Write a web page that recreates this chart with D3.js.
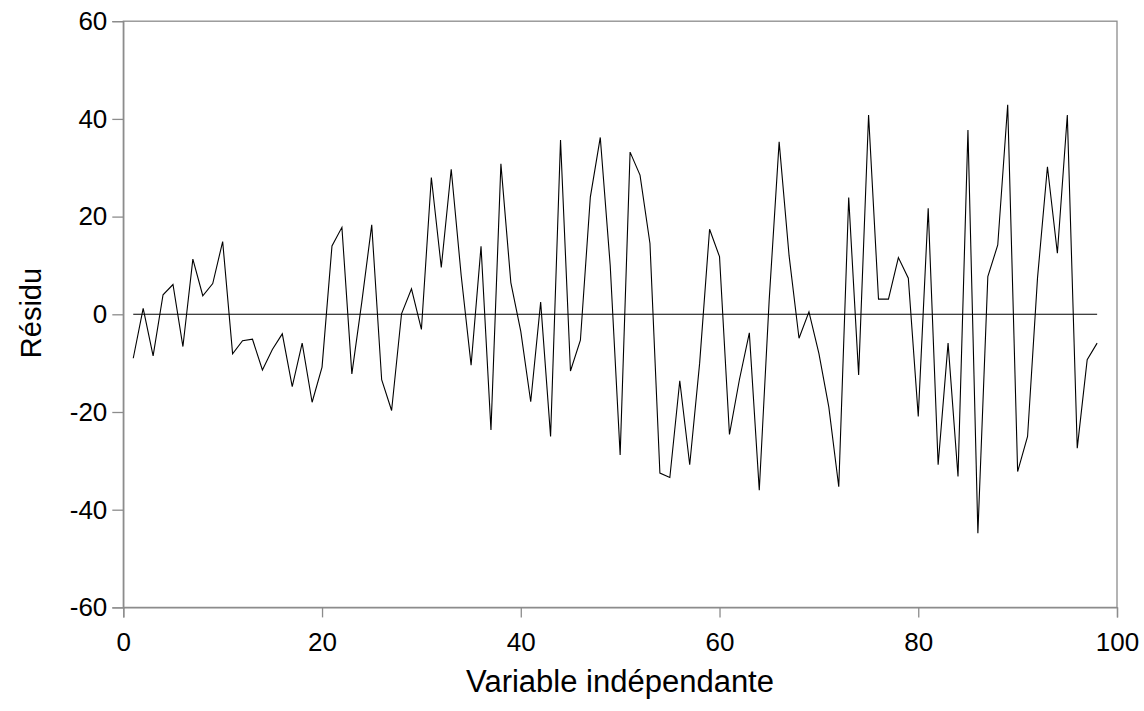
<!DOCTYPE html>
<html>
<head>
<meta charset="utf-8">
<script src="https://cdn.jsdelivr.net/npm/d3@7"></script>
<style>
  html, body { margin: 0; padding: 0; background: #ffffff; }
  svg { display: block; }
  text { font-family: "Liberation Sans", Arial, sans-serif; fill: #000; }
</style>
</head>
<body>
<svg id="chart" width="1144" height="711"></svg>
<script>
// ---- data ----
const xValues = [
  1,2,3,4,5,6,7,8,9,10,11,12,13,14,15,16,17,18,19,20,
  21,22,23,24,25,26,27,28,29,30,31,32,33,34,35,36,37,38,39,40,
  41,42,43,44,45,46,47,48,49,50,51,52,53,54,55,56,57,58,59,60,
  61,62,63,64,65,66,67,68,69,70,71,72,73,74,75,76,77,78,79,80,
  81,82,83,84,85,86,87,88,89,90,91,92,93,94,95,96,97,98
];
const residuals = [
  -9.0, 1.2, -8.5, 4.0, 6.1, -6.6, 11.3, 3.8, 6.3, 14.9,
  -8.1, -5.4, -5.1, -11.4, -7.2, -4.0, -14.8, -5.9, -18.0, -10.8,
  14.0, 17.8, -12.2, 2.5, 18.3, -13.4, -19.7, 0.1, 5.2, -3.1,
  28.0, 9.6, 29.7, 8.0, -10.4, 13.9, -23.7, 30.8, 6.5, -3.5,
  -17.9, 2.5, -25.0, 35.7, -11.6, -5.3, 24.0, 36.2, 10.0, -28.8,
  33.2, 28.5, 14.5, -32.5, -33.4, -13.6, -30.8, -10.0, 17.4, 11.8,
  -24.6, -13.4, -3.8, -36.0, 3.0, 35.3, 12.0, -4.9, 0.5, -8.0,
  -19.0, -35.3, 23.9, -12.4, 40.8, 3.1, 3.1, 11.6, 7.4, -20.9,
  21.7, -30.8, -5.9, -33.2, 37.7, -44.8, 7.7, 14.2, 42.9, -32.2,
  -25.0, 7.4, 30.2, 12.5, 40.8, -27.4, -9.3, -5.9
];
const zeroLine = xValues.map(() => 0);
const xTicks = [0, 20, 40, 60, 80, 100];
const yTicks = [-60, -40, -20, 0, 20, 40, 60];
const xTitle = "Variable indépendante";
const yTitle = "Résidu";

// ---- layout ----
const svg = d3.select("#chart");
const plotLeft = 123.3, plotRight = 1117, plotTop = 21.2, plotBottom = 607.4;

const x = d3.scaleLinear().domain([0, 100]).range([plotLeft, plotRight]);
const y = d3.scaleLinear().domain([-60, 60]).range([plotBottom, plotTop]);

const axisColor = "#8c8c8c";
const fmt = d => String(d);

// plot frame
svg.append("rect")
  .attr("x", plotLeft).attr("y", plotTop)
  .attr("width", plotRight - plotLeft).attr("height", plotBottom - plotTop)
  .attr("fill", "none").attr("stroke", axisColor).attr("stroke-width", 1.3);

// y axis
const yAxis = svg.append("g")
  .attr("transform", `translate(${plotLeft},0)`)
  .call(d3.axisLeft(y).tickValues(yTicks).tickSize(11).tickPadding(5).tickFormat(fmt));
yAxis.select(".domain").attr("stroke", axisColor).attr("stroke-width", 1.3);
yAxis.selectAll(".tick line").attr("stroke", axisColor).attr("stroke-width", 1.3);
yAxis.selectAll(".tick text")
  .style("font-family", "'Liberation Sans', Arial, sans-serif")
  .style("font-size", "26px").attr("fill", "#000");

// x axis
const xAxis = svg.append("g")
  .attr("transform", `translate(0,${plotBottom})`)
  .call(d3.axisBottom(x).tickValues(xTicks).tickSize(10).tickPadding(15).tickFormat(fmt));
xAxis.select(".domain").attr("stroke", axisColor).attr("stroke-width", 1.3);
xAxis.selectAll(".tick line").attr("stroke", axisColor).attr("stroke-width", 1.3);
xAxis.selectAll(".tick text")
  .style("font-family", "'Liberation Sans', Arial, sans-serif")
  .style("font-size", "26px").attr("fill", "#000");

// zero reference series
const line = d3.line().x((d, i) => x(xValues[i])).y(d => y(d));
svg.append("path")
  .datum(zeroLine)
  .attr("d", line)
  .attr("fill", "none").attr("stroke", "#000").attr("stroke-width", 1.1);

// residual series
svg.append("path")
  .datum(residuals)
  .attr("d", line)
  .attr("fill", "none").attr("stroke", "#000").attr("stroke-width", 1.1)
  .attr("stroke-linejoin", "miter");

// axis titles
svg.append("text")
  .attr("x", 620).attr("y", 692)
  .attr("text-anchor", "middle")
  .style("font-size", "31px")
  .text(xTitle);

svg.append("text")
  .attr("transform", `translate(41,313) rotate(-90)`)
  .attr("text-anchor", "middle")
  .style("font-size", "29px")
  .text(yTitle);
</script>
</body>
</html>
